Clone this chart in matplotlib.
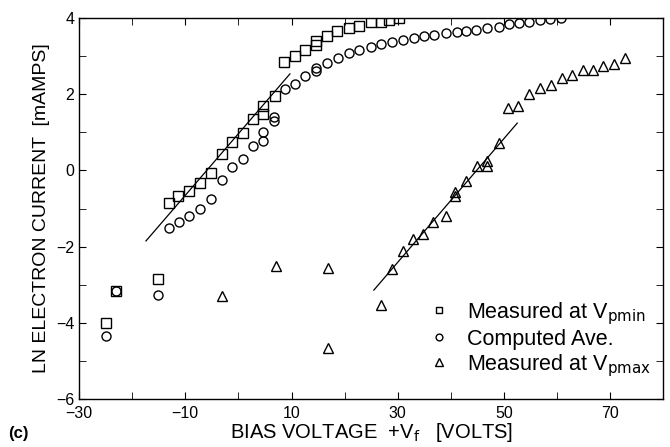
import matplotlib.pyplot as plt
from matplotlib.ticker import MultipleLocator

# --- DATA ---
# Measured at V_pmin (squares)
sq_x = [-25.0, -23.0, -15.2, -13.1, -11.3, -9.3, -7.3, -5.2, -3.1, -1.2, 0.8, 2.7, 4.6, 4.6,
        6.8, 8.6, 10.6, 12.6, 14.6, 14.6, 16.7, 18.6, 20.8, 22.8, 24.9, 26.8, 28.3, 30.3]
sq_y = [-4.0, -3.15, -2.85, -0.86, -0.68, -0.55, -0.32, -0.07, 0.43, 0.75, 0.98, 1.35, 1.48, 1.69,
        1.95, 2.85, 3.0, 3.16, 3.30, 3.40, 3.52, 3.65, 3.73, 3.79, 3.88, 3.90, 3.95, 4.0]

# Computed average (circles)
ci_x = [-25.0, -23.0, -15.2, -13.1, -11.2, -9.3, -7.3, -5.2, -3.1, -1.2, 0.8, 2.7, 4.6, 4.6,
        6.7, 6.7, 8.7, 10.7, 12.6, 14.6, 14.6, 16.7, 18.7, 20.8, 22.8, 24.9, 26.9, 29.0,
        30.9, 33.0, 35.0, 36.9, 39.0, 41.1, 42.9, 44.8, 46.9, 49.0, 51.0, 52.9, 54.8, 56.7,
        58.7, 60.8]
ci_y = [-4.35, -3.15, -3.27, -1.51, -1.36, -1.2, -1.01, -0.76, -0.26, 0.08, 0.30, 0.64, 0.78, 1.0,
        1.3, 1.4, 2.14, 2.27, 2.47, 2.6, 2.68, 2.82, 2.95, 3.07, 3.16, 3.24, 3.32, 3.38,
        3.43, 3.47, 3.52, 3.55, 3.6, 3.64, 3.66, 3.69, 3.73, 3.76, 3.84, 3.87, 3.9, 3.94,
        3.97, 4.0]

# Measured at V_pmax (triangles)
tr_x = [-3.1, 7.0, 16.9, 16.9, 26.8, 29.0, 30.9, 32.8, 34.8, 36.7, 39.0, 40.8, 40.8, 42.9,
        45.0, 46.9, 46.9, 49.0, 50.8, 52.7, 54.8, 56.8, 58.9, 61.0, 62.9, 64.9, 66.8, 68.7,
        70.8, 72.8]
tr_y = [-3.3, -2.5, -2.55, -4.66, -3.53, -2.58, -2.12, -1.8, -1.68, -1.36, -1.2, -0.67, -0.57, -0.28,
        0.12, 0.12, 0.25, 0.72, 1.63, 1.69, 2.0, 2.15, 2.24, 2.42, 2.5, 2.64, 2.64, 2.74,
        2.79, 2.94]

# straight-line fits
fit1_x = [-17.4, 9.7]
fit1_y = [-1.85, 2.53]
fit2_x = [25.5, 52.5]
fit2_y = [-3.14, 1.24]

plt.rcParams['font.family'] = ['Liberation Sans', 'DejaVu Sans']

fig = plt.figure(figsize=(6.7, 4.47), dpi=100)
ax = fig.add_axes([0.118, 0.107, 0.872, 0.853])

mk = dict(linestyle='none', markerfacecolor='none', markeredgecolor='black', markeredgewidth=1.0)
ax.plot(sq_x, sq_y, marker='s', markersize=6.5, label=r'Measured at V$_{\rm pmin}$', **mk)
ax.plot(ci_x, ci_y, marker='o', markersize=6.5, label='Computed Ave.', **mk)
ax.plot(tr_x, tr_y, marker='^', markersize=7, label=r'Measured at V$_{\rm pmax}$', **mk)

ax.plot(fit1_x, fit1_y, color='black', linewidth=0.9)
ax.plot(fit2_x, fit2_y, color='black', linewidth=0.9)

ax.set_xlim(-30, 80)
ax.set_ylim(-6, 4)
ax.set_xticks([-30, -10, 10, 30, 50, 70])
ax.xaxis.set_minor_locator(MultipleLocator(10))
ax.yaxis.set_major_locator(MultipleLocator(2))
ax.yaxis.set_minor_locator(MultipleLocator(1))
ax.tick_params(which='both', direction='in', top=True, right=True, labelsize=11.5, length=5)
ax.tick_params(axis='x', pad=5)
for s in ax.spines.values():
    s.set_linewidth(1.0)

ax.set_xlabel(r'BIAS VOLTAGE  +V$_{\rm f}$   [VOLTS]', fontsize=14.5, labelpad=0)
ax.set_ylabel('LN ELECTRON CURRENT  [mAMPS]', fontsize=14, labelpad=4)
fig.text(0.012, 0.02, '(c)', fontsize=12, fontweight='bold')

leg = ax.legend(loc='lower right', frameon=False, fontsize=15.5, markerscale=0.75,
                handlelength=1.2, handletextpad=0.7, labelspacing=0.1,
                borderaxespad=0.2, bbox_to_anchor=(1.0, 0.02))

fig.savefig('out.png', dpi=100)
